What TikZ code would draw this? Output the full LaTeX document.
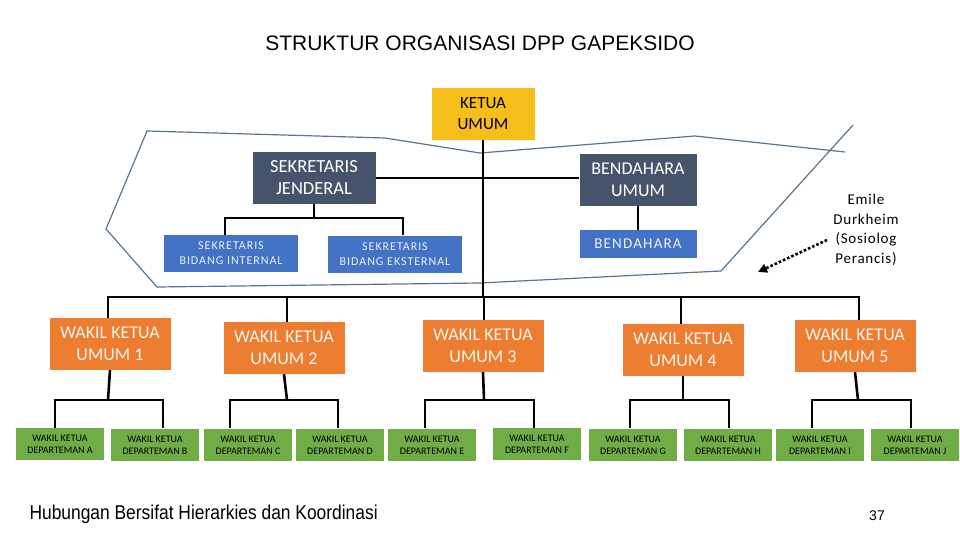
\documentclass[tikz,border=0pt]{standalone}
\usepackage{fontspec}
\setmainfont{Liberation Sans}
\newfontfamily\carl{Carlito}
\newfontfamily\carls[LetterSpace=8]{Carlito}
\newfontfamily\carlm[LetterSpace=5]{Carlito}
\usetikzlibrary{arrows.meta}
\definecolor{gold}{HTML}{F5BE1A}
\definecolor{dark}{HTML}{45546A}
\definecolor{blu}{HTML}{4472C4}
\definecolor{org}{HTML}{ED7D31}
\definecolor{grn}{HTML}{70AD47}
\definecolor{poly}{HTML}{5A7490}
\begin{document}
\begin{tikzpicture}[x=1pt,y=-1pt,
 box/.style={inner sep=0pt,align=center,font=\carl},
 con/.style={line width=2.6pt},
 dep/.style={box,fill=grn,minimum width=88pt,minimum height=32pt,font=\carl\fontsize{10}{12}\selectfont,text=black}]
\useasboundingbox (0,0) rectangle (960,540);
\node (tt) at (480,43) {\fontsize{21}{22}\selectfont STRUKTUR ORGANISASI DPP GAPEKSIDO};
\node[box,fill=gold,minimum width=103pt,minimum height=52pt,font=\carl\fontsize{17}{21}\selectfont] (ku) at (483,114) {KETUA\\UMUM};
\node[box,fill=dark,text=white,minimum width=123pt,minimum height=52pt,font=\carl\fontsize{18.5}{22}\selectfont] (sj) at (314,178) {SEKRETARIS\\JENDERAL};
\node[box,fill=dark,text=white,minimum width=117pt,minimum height=52pt,font=\carl\fontsize{18}{22}\selectfont] (bu) at (638,180) {BENDAHARA\\UMUM};
\node[box,fill=blu,text=white!90!blu,minimum width=117pt,minimum height=28pt,font=\carls\fontsize{15}{16}\selectfont] (bd) at (638,244) {BENDAHARA};
\node[box,fill=blu,text=white!90!blu,minimum width=134pt,minimum height=37pt,font=\carls\fontsize{12}{15}\selectfont] (si) at (231,253) {SEKRETARIS\\BIDANG INTERNAL};
\node[box,fill=blu,text=white!90!blu,minimum width=134pt,minimum height=37pt,font=\carls\fontsize{12}{15}\selectfont] (se) at (395,254) {SEKRETARIS\\BIDANG EKSTERNAL};
\node[align=center,font=\carlm\fontsize{15}{19.5}\selectfont] (em) at (866,230) {Emile\\Durkheim\\(Sosiolog\\Perancis)};
% polygon
\draw[poly,line width=1.2pt] (845,152) -- (695,136) -- (480,153) -- (385,138) -- (147,131) -- (106,229) -- (157,287) -- (480,283) -- (721,271) -- (853,125);
\coordinate (as) at (827,240);
\coordinate (ae) at (758,272);
\draw[line width=2.6pt,dotted,-{Triangle[length=9pt,width=9pt]}] (as) -- (ae);
% WK
\tikzset{wk/.style={box,fill=org,text=white!92!org,minimum width=121pt,minimum height=52pt,font=\carl\fontsize{18}{22}\selectfont}}
\node[wk] (w1) at (110,344) {WAKIL KETUA\\UMUM 1};
\node[wk] (w2) at (284,348) {WAKIL KETUA\\UMUM 2};
\node[wk] (w3) at (483,346) {WAKIL KETUA\\UMUM 3};
\node[wk] (w4) at (683,350) {WAKIL KETUA\\UMUM 4};
\node[wk] (w5) at (855,346) {WAKIL KETUA\\UMUM 5};
\foreach \n/\x/\y/\l in {a/60/444/A,b/155/445/B,c/248/445/C,d/340/445/D,e/432/445/E,f/537/444/F,g/633/445/G,h/728/445/H,i/820/445/I,j/915/445/J}
 \node[dep] (d\n) at (\x,\y) {WAKIL KETUA\\DEPARTEMAN \l};
% connectors
\draw[con] (ku.south) -- (483,297);
\draw[con] (sj.east) -- (sj.east -| bu.west);
\draw[con] (bu.south) -- (bd.north);
\draw[con] (sj.south) -- (314,218);
\draw[con] (225,218) -- (403,218);
\draw[con] (225,217) -- (225,235);
\draw[con] (403,217) -- (403,235);
\draw[con] (108,297) -- (859,297);
\foreach \w/\x in {w1/108,w2/287,w3/484,w4/681,w5/859} \draw[con] (\x,296) -- (\x,297 |- \w.north);
\foreach \w/\x/\p/\q in {w1/108/55/163,w2/287/230/338,w3/484/425/534,w4/683/630/729,w5/858/812/911}{
 \draw[con] (\w.south) -- (\x,400);
 \draw[con] (\p,400) -- (\q,400);
 \draw[con] (\p,399) -- (\p,428);
 \draw[con] (\q,399) -- (\q,428);}
\node[anchor=west,font=\fontsize{20}{22}\selectfont\addfontfeature{FakeStretch=0.87}] (ft) at (26,514) {Hubungan Bersifat Hierarkies dan Koordinasi};
\node[font=\fontsize{14}{16}\selectfont] (pg) at (877,516) {37};
\end{tikzpicture}
\end{document}
